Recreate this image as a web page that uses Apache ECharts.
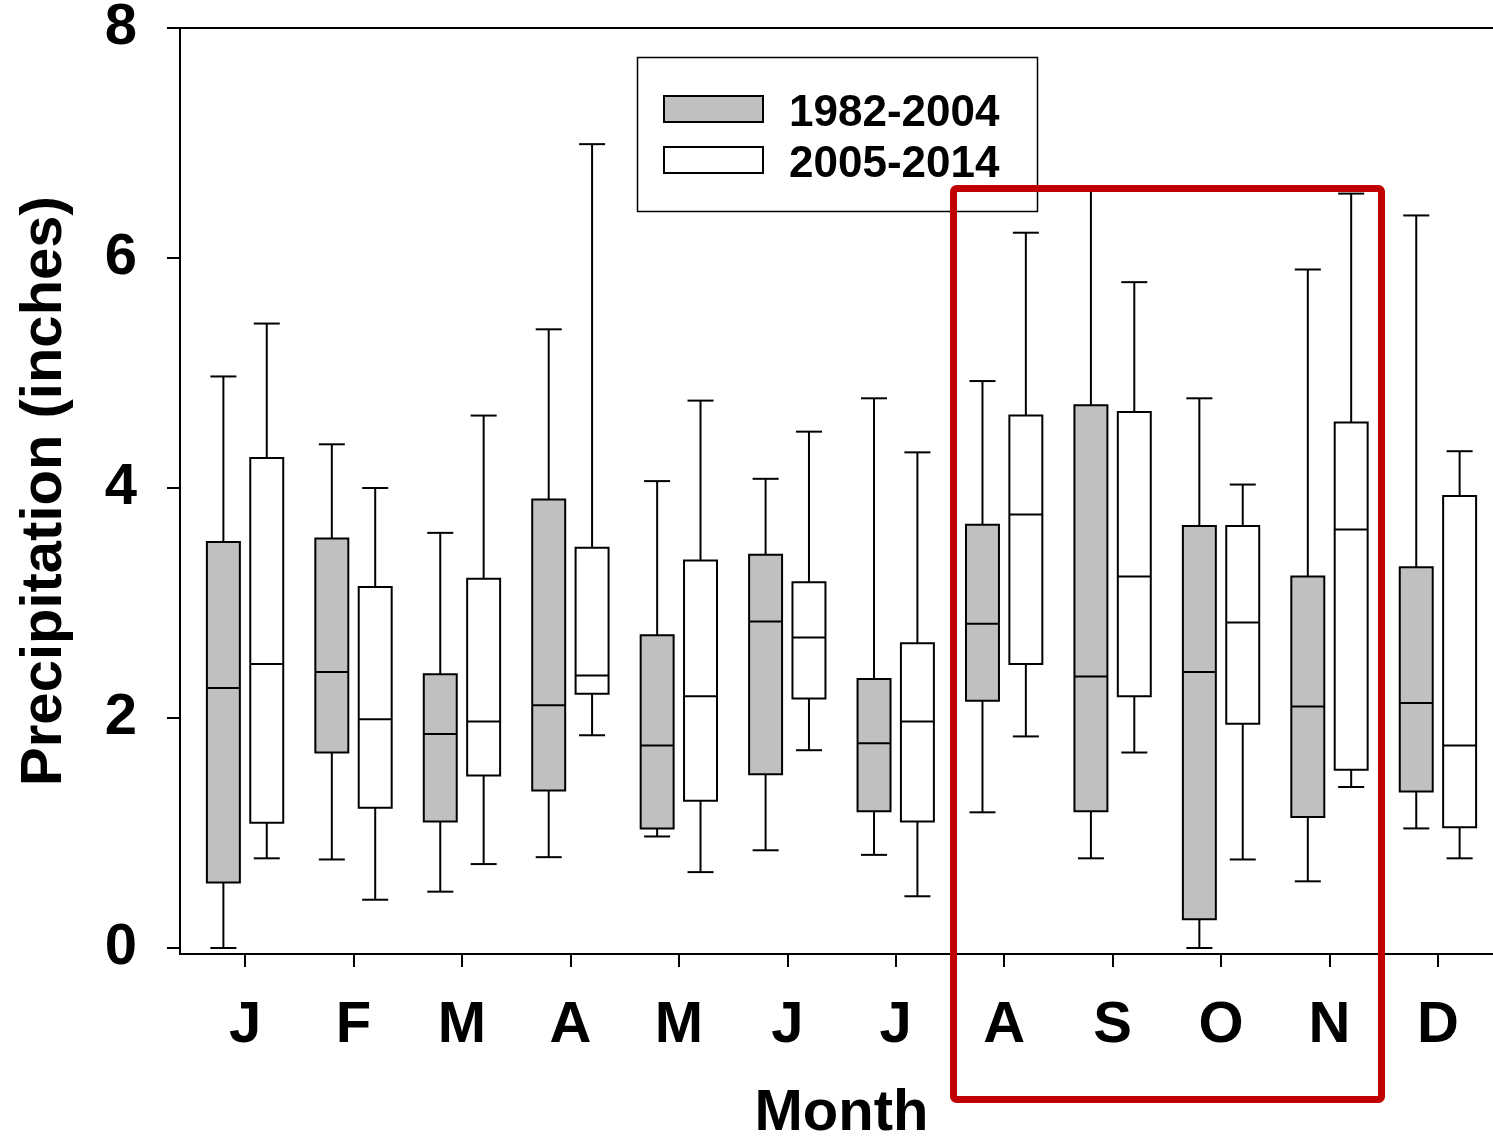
<!DOCTYPE html>
<html>
<head>
<meta charset="utf-8">
<script src="https://cdn.jsdelivr.net/npm/echarts@6/dist/echarts.min.js"></script>
<style>
  html, body { margin: 0; padding: 0; background: #fff; }
  #chart { width: 1493px; height: 1138px; }
</style>
</head>
<body>
<div id="chart"></div>
<script>
  var months = ['J', 'F', 'M', 'A', 'M', 'J', 'J', 'A', 'S', 'O', 'N', 'D'];
  var yTicks = [0, 2, 4, 6, 8];
  var seriesNames = ['1982-2004', '2005-2014'];
  var fills = ['#c0c0c0', '#fff'];

  // 1982-2004 (gray)
  var oldMin = [0.00, 0.77, 0.49, 0.79, 0.97, 0.85, 0.81, 1.18, 0.78, 0.00, 0.58, 1.04];
  var oldQ1  = [0.57, 1.70, 1.10, 1.37, 1.04, 1.51, 1.19, 2.15, 1.19, 0.25, 1.14, 1.36];
  var oldMed = [2.26, 2.40, 1.86, 2.11, 1.76, 2.84, 1.78, 2.82, 2.36, 2.40, 2.10, 2.13];
  var oldQ3  = [3.53, 3.56, 2.38, 3.90, 2.72, 3.42, 2.34, 3.68, 4.72, 3.67, 3.23, 3.31];
  var oldMax = [4.97, 4.38, 3.61, 5.38, 4.06, 4.08, 4.78, 4.93, 6.62, 4.78, 5.90, 6.37];

  // 2005-2014 (white)
  var newMin = [0.78, 0.42, 0.73, 1.85, 0.66, 1.72, 0.45, 1.84, 1.70, 0.77, 1.40, 0.78];
  var newQ1  = [1.09, 1.22, 1.50, 2.21, 1.28, 2.17, 1.10, 2.47, 2.19, 1.95, 1.55, 1.05];
  var newMed = [2.47, 1.99, 1.97, 2.37, 2.19, 2.70, 1.97, 3.77, 3.23, 2.83, 3.64, 1.76];
  var newQ3  = [4.26, 3.14, 3.21, 3.48, 3.37, 3.18, 2.65, 4.63, 4.66, 3.67, 4.57, 3.93];
  var newMax = [5.43, 4.00, 4.63, 6.99, 4.76, 4.49, 4.31, 6.22, 5.79, 4.03, 6.56, 4.32];

  var font = '"Liberation Sans", Arial, sans-serif';
  var boxWidth = 0.304;   // in month units
  var capWidth = 0.24;

  function rows(mn, q1, md, q3, mx) {
    return months.map(function (m, i) {
      return [i + 1, mn[i], q1[i], md[i], q3[i], mx[i]];
    });
  }

  function boxRenderer(offset, fill) {
    return function (params, api) {
      var x = api.value(0) + offset;
      var pMin = api.coord([x, api.value(1)]);
      var pQ1 = api.coord([x, api.value(2)]);
      var pMed = api.coord([x, api.value(3)]);
      var pQ3 = api.coord([x, api.value(4)]);
      var pMax = api.coord([x, api.value(5)]);
      var c = pMed[0];
      var bw = api.size([boxWidth, 0])[0];
      var cw = api.size([capWidth, 0])[0];
      var ln = { stroke: '#000', lineWidth: 2 };
      return {
        type: 'group',
        children: [
          { type: 'line', shape: { x1: c, y1: pMax[1], x2: c, y2: pQ3[1] }, style: ln },
          { type: 'line', shape: { x1: c, y1: pQ1[1], x2: c, y2: pMin[1] }, style: ln },
          { type: 'line', shape: { x1: c - cw / 2, y1: pMax[1], x2: c + cw / 2, y2: pMax[1] }, style: ln },
          { type: 'line', shape: { x1: c - cw / 2, y1: pMin[1], x2: c + cw / 2, y2: pMin[1] }, style: ln },
          { type: 'rect', shape: { x: c - bw / 2, y: pQ3[1], width: bw, height: pQ1[1] - pQ3[1] },
            style: { fill: fill, stroke: '#000', lineWidth: 2 } },
          { type: 'line', shape: { x1: c - bw / 2, y1: pMed[1], x2: c + bw / 2, y2: pMed[1] }, style: ln }
        ]
      };
    };
  }

  // hand-placed legend box (keeps text aligned with the swatches)
  function legendGraphic() {
    var kids = [{
      type: 'rect',
      shape: { x: 637.5, y: 57.5, width: 400, height: 154 },
      style: { fill: '#fff', stroke: '#000', lineWidth: 1.5 }
    }];
    seriesNames.forEach(function (name, i) {
      var top = 96 + i * 51;
      kids.push({
        type: 'rect',
        shape: { x: 664, y: top, width: 99, height: 26 },
        style: { fill: fills[i], stroke: '#000', lineWidth: 2 }
      });
      kids.push({
        type: 'text',
        x: 789, y: top + 18,
        style: { text: name, fill: '#000', font: 'bold 44px ' + font,
                 verticalAlign: 'middle', align: 'left' }
      });
    });
    return { type: 'group', z: 50, children: kids };
  }

  var chart = echarts.init(document.getElementById('chart'), null, { renderer: 'canvas' });

  var option = {
    animation: false,
    backgroundColor: '#fff',
    grid: {
      left: 180, right: -10, top: 28, bottom: 184,
      outerBoundsMode: 'none',
      containLabel: false,
      show: true, borderColor: '#000', borderWidth: 2, backgroundColor: 'transparent'
    },
    xAxis: {
      type: 'value',
      min: 0.4, max: 12.6,
      name: 'Month', nameLocation: 'middle', nameGap: 131,
      nameTextStyle: { fontFamily: font, fontWeight: 'bold', fontSize: 58, color: '#000' },
      splitLine: { show: false },
      axisLine: { onZero: false, lineStyle: { color: '#000', width: 2 } },
      axisTick: { show: true, length: 13, lineStyle: { color: '#000', width: 2 },
                  customValues: months.map(function (m, i) { return i + 1; }) },
      axisLabel: {
        customValues: months.map(function (m, i) { return i + 1; }),
        formatter: function (v) { return months[Math.round(v) - 1]; },
        margin: 43, lineHeight: 58,
        fontFamily: font, fontWeight: 'bold', fontSize: 58, color: '#000'
      }
    },
    yAxis: {
      type: 'value',
      min: -0.052, max: 8,
      name: 'Precipitation (inches)', nameLocation: 'middle', nameGap: 106, nameRotate: 90,
      nameTextStyle: { fontFamily: font, fontWeight: 'bold', fontSize: 58, color: '#000' },
      splitLine: { show: false },
      axisLine: { show: true, onZero: false, lineStyle: { color: '#000', width: 2 } },
      axisTick: { show: true, length: 13, lineStyle: { color: '#000', width: 2 }, customValues: yTicks },
      axisLabel: {
        customValues: yTicks,
        margin: 43,
        fontFamily: font, fontWeight: 'bold', fontSize: 58, color: '#000'
      }
    },
    series: [
      {
        name: seriesNames[0],
        type: 'custom',
        renderItem: boxRenderer(-0.2, fills[0]),
        encode: { x: 0, y: [1, 2, 3, 4, 5] },
        data: rows(oldMin, oldQ1, oldMed, oldQ3, oldMax),
        z: 2
      },
      {
        name: seriesNames[1],
        type: 'custom',
        renderItem: boxRenderer(0.2, fills[1]),
        encode: { x: 0, y: [1, 2, 3, 4, 5] },
        data: rows(newMin, newQ1, newMed, newQ3, newMax),
        z: 2
      }
    ],
    graphic: [
      legendGraphic(),
      {
        // red highlight frame around Aug-Nov
        type: 'rect',
        left: 950, top: 185, z: 100,
        shape: { width: 428, height: 911, r: 3 },
        style: { fill: 'none', stroke: '#c00000', lineWidth: 7 }
      }
    ]
  };

  chart.setOption(option);
</script>
</body>
</html>
